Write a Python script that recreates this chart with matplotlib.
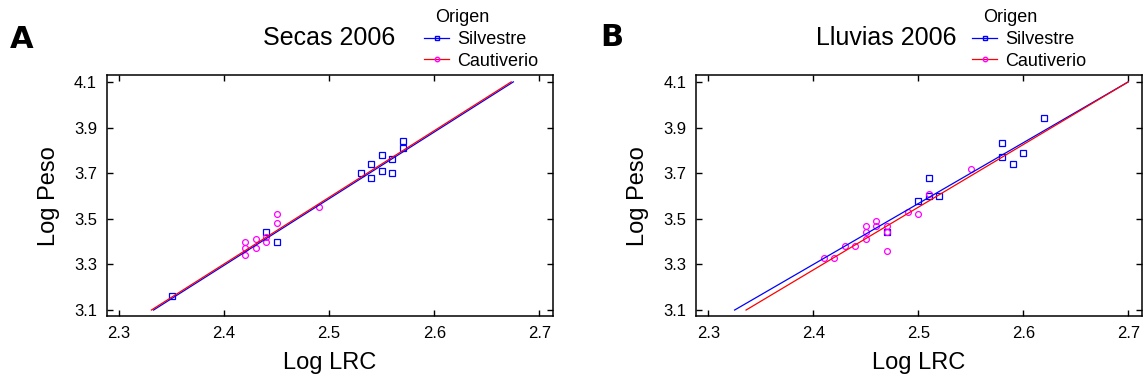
import numpy as np
import matplotlib.pyplot as plt

plt.rcParams['font.family'] = ['Liberation Sans', 'DejaVu Sans']

# Panel A - Secas 2006
a_silv_x = [2.35, 2.44, 2.45, 2.53, 2.54, 2.54, 2.55, 2.55, 2.56, 2.56, 2.57, 2.57]
a_silv_y = [3.16, 3.44, 3.40, 3.70, 3.74, 3.68, 3.78, 3.71, 3.76, 3.70, 3.84, 3.81]
a_caut_x = [2.42, 2.42, 2.42, 2.43, 2.43, 2.44, 2.44, 2.45, 2.45, 2.49]
a_caut_y = [3.40, 3.37, 3.34, 3.41, 3.37, 3.40, 3.42, 3.52, 3.48, 3.55]
# fitted lines (intercept, slope)
a_fit_silv = (-3.712, 2.92)
a_fit_caut = (-3.706, 2.92)

# Panel B - Lluvias 2006
b_silv_x = [2.47, 2.50, 2.51, 2.51, 2.52, 2.58, 2.58, 2.59, 2.60, 2.62]
b_silv_y = [3.44, 3.58, 3.68, 3.60, 3.60, 3.83, 3.77, 3.74, 3.79, 3.94]
b_caut_x = [2.41, 2.42, 2.43, 2.44, 2.45, 2.45, 2.45, 2.46, 2.46, 2.47, 2.47, 2.47,
            2.49, 2.50, 2.51, 2.55]
b_caut_y = [3.33, 3.33, 3.38, 3.38, 3.41, 3.44, 3.47, 3.49, 3.47, 3.47, 3.44, 3.36,
            3.53, 3.52, 3.61, 3.72]
b_fit_silv = (-3.101, 2.667)
b_fit_caut = (-3.317, 2.747)

x_ticks = [2.3, 2.4, 2.5, 2.6, 2.7]
y_ticks = [3.1, 3.3, 3.5, 3.7, 3.9, 4.1]

W, H = 1146, 382
fig = plt.figure(figsize=(W / 100, H / 100), dpi=100)


def px(x, y):
    return x / W, 1 - y / H


def fit_line(ax, coef, color):
    a, b = coef
    ys = np.array([3.1, 4.1])
    xs = (ys - a) / b
    ax.plot(xs, a + b * xs, color=color, lw=0.9, zorder=3)


def panel(rect, sx, sy, cx, cy, fs, fc, title, title_xy, letter, letter_xy, leg_xy):
    ax = fig.add_axes(rect)
    ax.plot(sx, sy, 's', ms=4, mfc='none', mec='blue', mew=0.9, zorder=2)
    ax.plot(cx, cy, 'o', ms=4.2, mfc='none', mec='magenta', mew=0.9, zorder=2)
    fit_line(ax, fs, 'blue')
    fit_line(ax, fc, 'red')
    ax.set_xlim(2.2883, 2.7128)
    ax.set_ylim(3.074, 4.128)
    ax.set_xticks(x_ticks)
    ax.set_yticks(y_ticks)
    ax.set_xticklabels([f'{v:.1f}' for v in x_ticks])
    ax.set_yticklabels([f'{v:.1f}' for v in y_ticks])
    ax.tick_params(direction='in', top=True, right=True, length=4, width=1,
                   labelsize=12, pad=7)
    for s in ax.spines.values():
        s.set_linewidth(1.1)
    ax.set_xlabel('Log LRC', fontsize=17, labelpad=8)
    ax.set_ylabel('Log Peso', fontsize=17, labelpad=10)
    fig.text(*px(*title_xy), title, fontsize=18, ha='center', va='center')
    fig.text(*px(*letter_xy), letter, fontsize=22, fontweight='bold',
             ha='center', va='center', family='DejaVu Sans')
    h1, = ax.plot([], [], '-s', color='blue', lw=0.9, ms=3, mfc='none', mec='blue')
    h2, = ax.plot([], [], '-o', color='red', lw=0.9, ms=3.2, mfc='none', mec='magenta')
    fig.text(*px(leg_xy[0] + 11, leg_xy[1] - 14), 'Origen', fontsize=13,
             ha='left', va='center')
    fig.legend([h1, h2], ['Silvestre', 'Cautiverio'], loc='upper left',
               bbox_to_anchor=px(*leg_xy), frameon=False, fontsize=13,
               handlelength=1.4, handletextpad=0.45, labelspacing=0.25,
               borderpad=0, borderaxespad=0)
    return ax


panel([0.0931, 0.1728, 0.3892, 0.6296], a_silv_x, a_silv_y, a_caut_x, a_caut_y,
      a_fit_silv, a_fit_caut, 'Secas 2006', (329, 38), 'A', (22, 40), (424, 31))
panel([0.6073, 0.1728, 0.3889, 0.6296], b_silv_x, b_silv_y, b_caut_x, b_caut_y,
      b_fit_silv, b_fit_caut, 'Lluvias 2006', (886, 38), 'B', (612, 37), (972, 31))

fig.savefig('out.png', dpi=100)
